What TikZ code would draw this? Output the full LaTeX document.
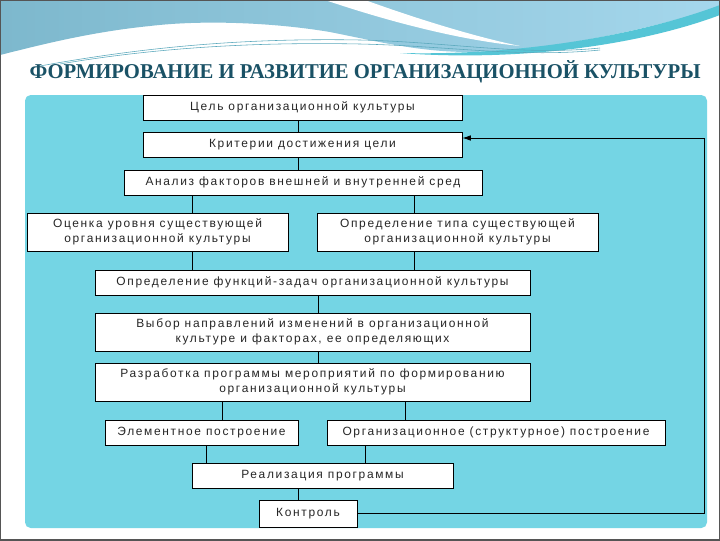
\documentclass[tikz,border=0pt]{standalone}
\usepackage{fontspec}
\usepackage{graphicx}
\usetikzlibrary{positioning, arrows.meta}
\newfontfamily\boxfont[LetterSpace=14]{Liberation Sans}
\newfontfamily\titlefont{Liberation Serif}

\begin{document}
\begin{tikzpicture}[x=0.025cm, y=-0.025cm,
    blk/.style={draw=black, fill=white, line width=0.6pt, align=center, inner sep=0pt, text=black!85, font=\boxfont\fontsize{8.5}{11}\selectfont},
    sz/.style 2 args={minimum width=#1*0.025cm, minimum height=#2*0.025cm},
    link/.style={draw=black, line width=0.6pt},
    ttl/.style={font=\titlefont\bfseries\fontsize{15}{18}\selectfont, text=cTitle}]

\definecolor{cPanel}{HTML}{74D5E4}
\definecolor{cTitle}{HTML}{1A5266}
\definecolor{cSkyL}{HTML}{7DB8CD}
\definecolor{cSkyR}{HTML}{A5D7EC}
\definecolor{cTeal}{HTML}{55C5D6}
\definecolor{cLine}{HTML}{5AA8BC}
\definecolor{cFrame}{HTML}{555555}

\useasboundingbox (0,0) rectangle (720,540);

% ФОН СЛАЙДА
\fill[white] (0,0) rectangle (720,540);
\shade[left color=cSkyL, right color=cSkyR] (0,0) -- (720,0) -- (720,8)
    .. controls (640,30) and (560,50) .. (470,52)
    .. controls (420,52) and (380,42) .. (330,32)
    .. controls (270,22) and (200,20) .. (150,26)
    .. controls (90,32) and (40,45) .. (0,55) -- cycle;
\fill[white] (325,0) -- (365,0) .. controls (420,20) and (480,38) .. (520,46)
    .. controls (460,40) and (390,22) .. (325,0) -- cycle;
\fill[cTeal] (400,53) .. controls (520,56) and (640,35) .. (720,5) -- (720,15)
    .. controls (640,45) and (520,62) .. (400,53) -- cycle;
\draw[cLine, line width=0.4pt] (40,66) .. controls (150,46) and (250,38) .. (360,40)
    .. controls (450,42) and (520,56) .. (600,48);
\draw[cLine, line width=0.4pt] (60,64) .. controls (160,47) and (260,42) .. (360,44)
    .. controls (450,46) and (520,58) .. (600,50);
\draw[cFrame, line width=1.2pt] (0,0) rectangle (720,540);

% Заголовок
\node[ttl] (title) at (365,72) {\scalebox{0.98}[1]{ФОРМИРОВАНИЕ И РАЗВИТИЕ ОРГАНИЗАЦИОННОЙ КУЛЬТУРЫ}};

% ПАНЕЛЬ
\fill[cPanel, rounded corners=4pt] (25,95) rectangle (707,528);

% Блоки
\node[blk, sz={319}{25}] (goal) at (302.5,107.5) {Цель организационной культуры};
\node[blk, sz={319}{25}] (crit) at (302.5,144.5) {Критерии достижения цели};
\node[blk, sz={358}{25}] (anal) at (303,182.5) {Анализ факторов внешней и внутренней сред};
\node[blk, sz={261}{38}] (eval) at (157.5,232) {Оценка уровня существующей\\организационной культуры};
\node[blk, sz={281}{38}] (type) at (457.5,232) {Определение типа существующей\\организационной культуры};
\node[blk, sz={435}{25}] (func) at (312.5,282.5) {Определение функций-задач организационной культуры};
\node[blk, sz={435}{38}] (choice) at (312.5,332) {Выбор направлений изменений в организационной\\культуре и факторах, ее определяющих};
\node[blk, sz={435}{38}] (prog) at (312.5,382) {Разработка программы мероприятий по формированию\\организационной культуры};
\node[blk, sz={193}{25}] (elem) at (201.5,432.5) {Элементное построение};
\node[blk, sz={338}{25}] (org) at (496,432.5) {Организационное (структурное) построение};
\node[blk, sz={261}{25}] (real) at (322.5,475.5) {Реализация программы};
\node[blk, sz={98}{27}] (ctrl) at (308,513.5) {Контроль};

% Линии связи
\coordinate (cA) at (298,0);
\coordinate (cB) at (192,0);
\coordinate (cC) at (414,0);
\coordinate (cD) at (318,0);
\coordinate (cE) at (222,0);
\coordinate (cF) at (405,0);
\coordinate (cG) at (206,0);
\coordinate (cH) at (365,0);
\coordinate (fb) at (704,138);

\draw[link] (goal.south -| cA) -- (crit.north -| cA);
\draw[link] (crit.south -| cA) -- (anal.north -| cA);
\draw[link] (anal.south -| cB) -- (eval.north -| cB);
\draw[link] (anal.south -| cC) -- (type.north -| cC);
\draw[link] (eval.south -| cB) -- (func.north -| cB);
\draw[link] (type.south -| cC) -- (func.north -| cC);
\draw[link] (func.south -| cD) -- (choice.north -| cD);
\draw[link] (choice.south -| cD) -- (prog.north -| cD);
\draw[link] (prog.south -| cE) -- (elem.north -| cE);
\draw[link] (prog.south -| cF) -- (org.north -| cF);
\draw[link] (elem.south -| cG) -- (real.north -| cG);
\draw[link] (org.south -| cH) -- (real.north -| cH);
\draw[link] (real.south -| cA) -- (ctrl.north -| cA);
\draw[link, -{Latex[length=6pt, width=4pt]}] (ctrl.east) -| (fb) -- (crit.east |- fb);

\end{tikzpicture}
\end{document}
